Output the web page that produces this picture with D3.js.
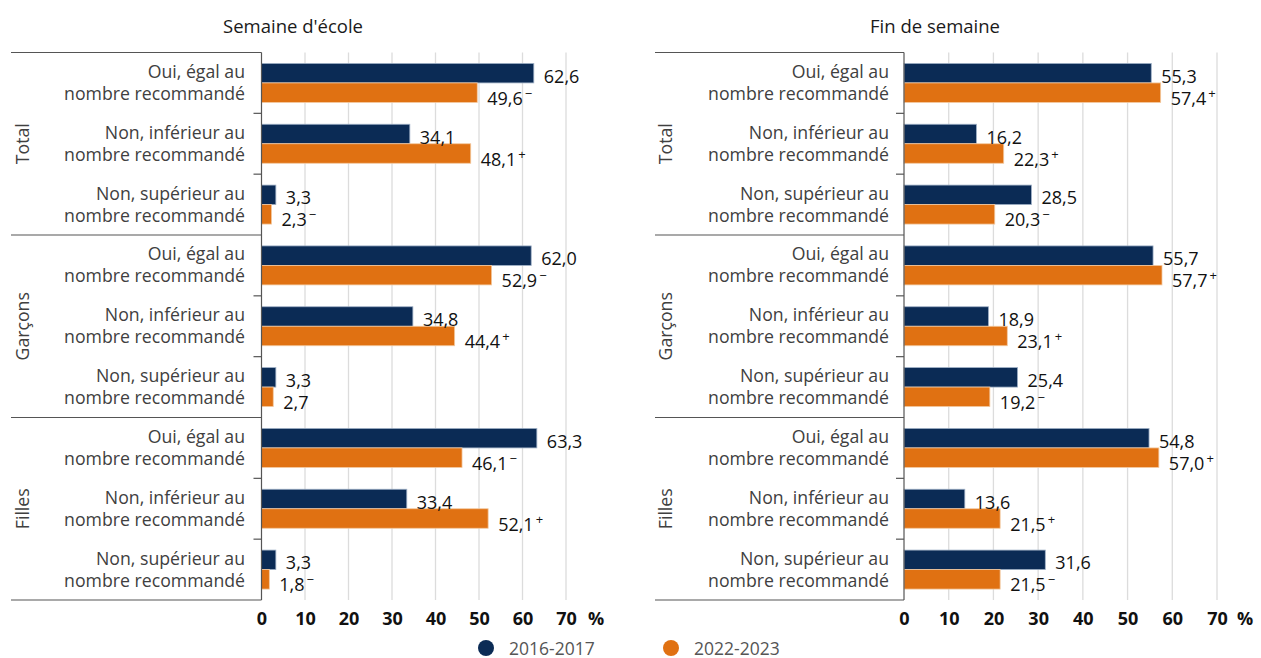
<!DOCTYPE html>
<html>
<head>
<meta charset="utf-8">
<script src="https://cdn.jsdelivr.net/npm/d3@7"></script>
<style>
  body { margin: 0; background: #fff; }
  svg { font-family: "Open Sans", sans-serif; }
</style>
</head>
<body>
<script>
"use strict"

const groups = ['Total', 'Garçons', 'Filles']
const answers = [
   ['Oui, égal au', 'nombre recommandé'],
   ['Non, inférieur au', 'nombre recommandé'],
   ['Non, supérieur au', 'nombre recommandé']
]
const series = ['2016-2017', '2022-2023']
const colors = ['#0b2b55', '#e07112']
const ticks = [0, 10, 20, 30, 40, 50, 60, 70]

// École: values in order Total(oui, inf, sup), Garçons(...), Filles(...)
const school_1617 = [62.6, 34.1, 3.3, 62.0, 34.8, 3.3, 63.3, 33.4, 3.3]
const school_2223 = [49.6, 48.1, 2.3, 52.9, 44.4, 2.7, 46.1, 52.1, 1.8]
const school_sig = ['−', '+', '−', '−', '+', '', '−', '+', '−']

const weekend_1617 = [55.3, 16.2, 28.5, 55.7, 18.9, 25.4, 54.8, 13.6, 31.6]
const weekend_2223 = [57.4, 22.3, 20.3, 57.7, 23.1, 19.2, 57.0, 21.5, 21.5]
const weekend_sig = ['+', '+', '−', '+', '+', '−', '+', '+', '−']

const W = 1261, H = 658
const top_y = 52.5, bot_y = 600

const svg = d3.select('body').append('svg')
   .attr('width', W)
   .attr('height', H)

const fmt = v => v.toFixed(1).replace('.', ',')

function drawPanel(opt) {
   const g = svg.append('g')
   const x = d3.scaleLinear([0, 70], [opt.x0, opt.x70])
   const rows = d3.range(9)
   const y = d3.scaleBand(rows, [top_y, bot_y])
   const gy = d3.scaleBand(groups, [top_y, bot_y])

   g.append('text')
      .attr('x', opt.titleX)
      .attr('y', 25)
      .attr('text-anchor', 'middle')
      .attr('dominant-baseline', 'central')
      .style('font-size', '18.5px')
      .style('fill', '#1a1a1a')
      .text(opt.title)

   // gridlines
   g.selectAll('.grid')
      .data(ticks.slice(1))
      .enter()
      .append('line')
         .attr('x1', d => x(d)).attr('x2', d => x(d))
         .attr('y1', top_y).attr('y2', bot_y)
         .style('stroke', '#dcdcdc')
         .style('stroke-width', 1.3)

   // tick labels
   const xa = d3.axisBottom(x).tickValues(ticks).tickSize(0).tickPadding(0)
   const ax = g.append('g')
      .attr('transform', `translate(0, 618)`)
      .call(xa)
   ax.select('.domain').remove()
   ax.selectAll('text')
      .attr('dy', null)
      .attr('y', 0)
      .attr('dominant-baseline', 'central')
      .style('font-family', '"Open Sans", sans-serif')
      .style('font-size', '18px')
      .style('font-weight', 'bold')
      .style('fill', '#111')
   g.append('text')
      .attr('x', opt.pctX)
      .attr('y', 618)
      .attr('text-anchor', 'middle')
      .attr('dominant-baseline', 'central')
      .style('font-size', '18px')
      .style('font-weight', 'bold')
      .style('fill', '#111')
      .text('%')

   // bars
   const bh = 19.5
   const mid = d => y(d) + y.bandwidth() / 2
   const vals = [opt.a, opt.b]
   vals.forEach((arr, si) => {
      g.selectAll('.bar' + si)
         .data(rows)
         .enter()
         .append('rect')
            .attr('x', x(0))
            .attr('y', d => mid(d) - bh + si * bh)
            .attr('width', d => x(arr[d]) - x(0))
            .attr('height', bh)
            .style('fill', colors[si])
            .style('stroke', si ? '#f3c9a0' : '#9fb0c6')
            .style('stroke-width', 0.8)
   })

   // value labels, drawn above all bars
   vals.forEach((arr, si) => {
      const lab = g.selectAll('.lab' + si)
         .data(rows)
         .enter()
         .append('text')
            .attr('x', d => x(arr[d]) + 10)
            .attr('y', d => mid(d) - bh / 2 + si * bh + (si ? 5 : 2.5))
            .attr('dominant-baseline', 'central')
            .style('font-size', '18px')
            .style('fill', '#111')
      lab.append('tspan').text(d => fmt(arr[d]))
      if (si === 1) {
         lab.append('tspan')
            .attr('dx', 2)
            .attr('dy', -5)
            .style('font-size', '13px')
            .text(d => opt.sig[d])
      }
   })

   // category labels
   const cl = g.selectAll('.cat')
      .data(rows)
      .enter()
      .append('text')
         .attr('text-anchor', 'end')
         .style('font-size', '17.7px')
         .style('fill', '#404040')
   cl.append('tspan')
      .attr('x', opt.labelX)
      .attr('y', d => mid(d) - 12)
      .attr('dominant-baseline', 'central')
      .text(d => answers[d % 3][0])
   cl.append('tspan')
      .attr('x', opt.labelX)
      .attr('y', d => mid(d) + 10)
      .attr('dominant-baseline', 'central')
      .text(d => answers[d % 3][1])

   // group labels
   g.selectAll('.grp')
      .data(groups)
      .enter()
      .append('text')
         .attr('transform', d => `translate(${opt.groupX}, ${gy(d) + gy.bandwidth() / 2}) rotate(-90)`)
         .attr('text-anchor', 'middle')
         .attr('dominant-baseline', 'central')
         .style('font-size', '17.7px')
         .style('fill', '#404040')
         .text(d => d)

   // group separators
   const seps = [top_y].concat(groups.map(d => gy(d) + gy.bandwidth()))
   g.selectAll('.sep')
      .data(seps)
      .enter()
      .append('line')
         .attr('x1', opt.sepX).attr('x2', x(0))
         .attr('y1', d => d).attr('y2', d => d)
         .style('stroke', '#555')
         .style('stroke-width', 1.2)

   // small ticks between answers
   g.selectAll('.tk')
      .data(rows.filter(d => d % 3 !== 0))
      .enter()
      .append('line')
         .attr('x1', x(0) - 8).attr('x2', x(0))
         .attr('y1', d => y(d)).attr('y2', d => y(d))
         .style('stroke', '#555')
         .style('stroke-width', 1.2)

   // axis line
   g.append('line')
      .attr('x1', x(0)).attr('x2', x(0))
      .attr('y1', top_y).attr('y2', bot_y)
      .style('stroke', '#555')
      .style('stroke-width', 1.2)
}

drawPanel({
   title: "Semaine d'école", titleX: 293,
   x0: 261.5, x70: 566, pctX: 596,
   labelX: 245, groupX: 22, sepX: 11,
   a: school_1617, b: school_2223, sig: school_sig
})

drawPanel({
   title: 'Fin de semaine', titleX: 935,
   x0: 904, x70: 1217, pctX: 1245,
   labelX: 889, groupX: 665, sepX: 655,
   a: weekend_1617, b: weekend_2223, sig: weekend_sig
})

// legend
const leg = svg.append('g')
   .selectAll('g')
   .data(series)
   .enter()
   .append('g')
      .attr('transform', (d, i) => `translate(${[486, 671][i]}, 648)`)
leg.append('circle')
   .attr('r', 8)
   .style('fill', (d, i) => colors[i])
leg.append('text')
   .attr('x', 23)
   .attr('dominant-baseline', 'central')
   .style('font-size', '17.5px')
   .style('fill', '#555')
   .text(d => d)
</script>
</body>
</html>
